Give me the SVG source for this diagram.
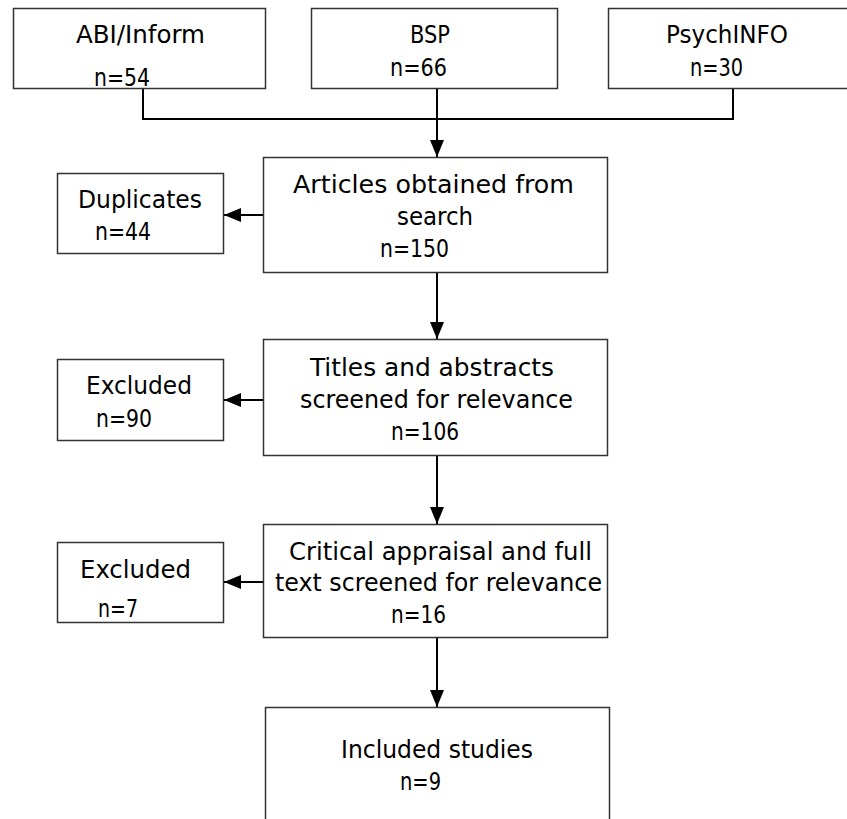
<svg xmlns="http://www.w3.org/2000/svg" width="847" height="819" viewBox="0 0 847 819">
<defs>
<style>
.box{fill:#fff;stroke:#333;stroke-width:1.5}
.lbl{font-family:"DejaVu Sans Condensed","DejaVu Sans",sans-serif;font-size:24px;fill:#000}
.con{fill:none;stroke:#000;stroke-width:2}
</style>
<marker id="ah" markerUnits="userSpaceOnUse" markerWidth="18" markerHeight="14" refX="17" refY="7" orient="auto" viewBox="0 0 18 14">
<path d="M0,0 L17,7 L0,14 Z" fill="#000"/>
</marker>
</defs>
<rect width="847" height="819" fill="#fff"/>
<g id="connectors">
<path class="con" d="M143,88 V119 H733 V88"/>
<path class="con" d="M437,88 V157" marker-end="url(#ah)"/>
<path class="con" d="M263,215 H224" marker-end="url(#ah)"/>
<path class="con" d="M437,272 V339" marker-end="url(#ah)"/>
<path class="con" d="M263,400 H224" marker-end="url(#ah)"/>
<path class="con" d="M437,455 V524" marker-end="url(#ah)"/>
<path class="con" d="M263,582 H224" marker-end="url(#ah)"/>
<path class="con" d="M437,637 V707" marker-end="url(#ah)"/>
</g>
<g id="abi">
<rect class="box" x="13.5" y="8.5" width="252" height="80"/>
<text class="lbl" x="76" y="43" textLength="129" lengthAdjust="spacingAndGlyphs">ABI/Inform</text>
<text class="lbl" x="94" y="86" textLength="56" lengthAdjust="spacingAndGlyphs">n=54</text>
</g>
<g id="bsp">
<rect class="box" x="311.5" y="8.5" width="246" height="80"/>
<text class="lbl" x="410" y="43" textLength="40" lengthAdjust="spacingAndGlyphs">BSP</text>
<text class="lbl" x="390" y="76" textLength="57" lengthAdjust="spacingAndGlyphs">n=66</text>
</g>
<g id="psychinfo">
<rect class="box" x="608.5" y="8.5" width="260" height="80"/>
<text class="lbl" x="666" y="43" textLength="122" lengthAdjust="spacingAndGlyphs">PsychINFO</text>
<text class="lbl" x="690" y="76" textLength="53" lengthAdjust="spacingAndGlyphs">n=30</text>
</g>
<g id="articles">
<rect class="box" x="263.5" y="157.5" width="344" height="115"/>
<text class="lbl" x="293" y="193" textLength="281" lengthAdjust="spacingAndGlyphs">Articles obtained from</text>
<text class="lbl" x="397" y="225" textLength="76" lengthAdjust="spacingAndGlyphs">search</text>
<text class="lbl" x="380" y="257" textLength="69" lengthAdjust="spacingAndGlyphs">n=150</text>
</g>
<g id="duplicates">
<rect class="box" x="57.5" y="173.5" width="166" height="80"/>
<text class="lbl" x="78" y="208" textLength="124" lengthAdjust="spacingAndGlyphs">Duplicates</text>
<text class="lbl" x="95" y="240" textLength="56" lengthAdjust="spacingAndGlyphs">n=44</text>
</g>
<g id="titles">
<rect class="box" x="263.5" y="339.5" width="344" height="116"/>
<text class="lbl" x="310" y="376" textLength="244" lengthAdjust="spacingAndGlyphs">Titles and abstracts</text>
<text class="lbl" x="300" y="408" textLength="273" lengthAdjust="spacingAndGlyphs">screened for relevance</text>
<text class="lbl" x="391" y="440" textLength="68" lengthAdjust="spacingAndGlyphs">n=106</text>
</g>
<g id="excluded1">
<rect class="box" x="57.5" y="359.5" width="166" height="81"/>
<text class="lbl" x="86" y="394" textLength="106" lengthAdjust="spacingAndGlyphs">Excluded</text>
<text class="lbl" x="96" y="427" textLength="56" lengthAdjust="spacingAndGlyphs">n=90</text>
</g>
<g id="critical">
<rect class="box" x="263.5" y="524.5" width="344" height="113"/>
<text class="lbl" x="289" y="560" textLength="303" lengthAdjust="spacingAndGlyphs">Critical appraisal and full</text>
<text class="lbl" x="275" y="591" textLength="327" lengthAdjust="spacingAndGlyphs">text screened for relevance</text>
<text class="lbl" x="391" y="623" textLength="55" lengthAdjust="spacingAndGlyphs">n=16</text>
</g>
<g id="excluded2">
<rect class="box" x="57.5" y="542.5" width="166" height="80"/>
<text class="lbl" x="80" y="578" textLength="111" lengthAdjust="spacingAndGlyphs">Excluded</text>
<text class="lbl" x="98" y="617" textLength="40" lengthAdjust="spacingAndGlyphs">n=7</text>
</g>
<g id="included">
<rect class="box" x="265.5" y="707.5" width="344" height="130"/>
<text class="lbl" x="341" y="758" textLength="192" lengthAdjust="spacingAndGlyphs">Included studies</text>
<text class="lbl" x="400" y="790" textLength="41" lengthAdjust="spacingAndGlyphs">n=9</text>
</g>
</svg>
